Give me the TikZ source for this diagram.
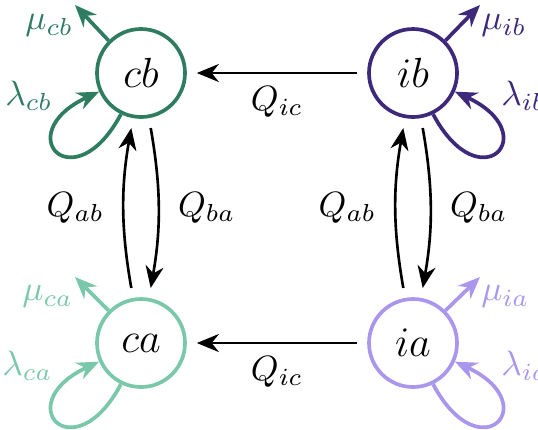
\documentclass[tikz,border=0pt]{standalone}
\usepackage{amsmath,amssymb}
\usepackage{tikz}
\usetikzlibrary{positioning,arrows.meta}
\usepackage{xcolor}
\definecolor{cbcol}{RGB}{46,125,96}
\definecolor{cacol}{RGB}{122,200,170}
\definecolor{ibcol}{RGB}{62,40,124}
\definecolor{iacol}{RGB}{170,150,236}

\begin{document}
\begin{tikzpicture}[>={Stealth[length=2.2mm,width=1.8mm]},
  state/.style={draw,circle,line width=1.05pt,minimum size=0.88cm,inner sep=0pt,font=\large},
  trans/.style={->,line width=0.75pt,shorten >=1mm,shorten <=1mm},
  rate/.style={->,line width=1.05pt}]
\useasboundingbox (0,0) rectangle (5.38,4.29);
\node[state,draw=cbcol] (cb) at (1.41,3.56) {$cb$};
\node[state,draw=ibcol] (ib) at (4.13,3.56) {$ib$};
\node[state,draw=cacol] (ca) at (1.41,0.86) {$ca$};
\node[state,draw=iacol] (ia) at (4.13,0.86) {$ia$};
% free ends of the departure arrows
\coordinate (mcb) at (0.75,4.24);
\coordinate (mib) at (4.80,4.24);
\coordinate (mca) at (0.75,1.52);
\coordinate (mia) at (4.80,1.52);
% transitions between states
\draw[trans] (ib) -- (cb) node[midway,below=0pt]{$Q_{ic}$};
\draw[trans] (ia) -- (ca) node[midway,below=0pt]{$Q_{ic}$};
\draw[trans] (ca) to[bend left=10] node[midway,left=0.07cm]{$Q_{ab}$} (cb);
\draw[trans] (cb) to[bend left=10] node[midway,right=0.07cm]{$Q_{ba}$} (ca);
\draw[trans] (ia) to[bend left=10] node[midway,left=0.07cm]{$Q_{ab}$} (ib);
\draw[trans] (ib) to[bend left=10] node[midway,right=0.07cm]{$Q_{ba}$} (ia);
% departures and arrivals
\draw[rate,cbcol] (cb.135) -- (mcb) node[midway,left=0.05cm,yshift=-0.03cm]{$\mu_{cb}$};
\draw[rate,ibcol] (ib.45) -- (mib) node[midway,right=0.05cm,yshift=-0.03cm]{$\mu_{ib}$};
\draw[rate,cacol] (ca.135) -- (mca) node[midway,left=0.05cm,yshift=-0.03cm]{$\mu_{ca}$};
\draw[rate,iacol] (ia.45) -- (mia) node[midway,right=0.05cm,yshift=-0.03cm]{$\mu_{ia}$};
\draw[rate,cbcol] (cb.244) to[out=-118,in=205,distance=1cm] node[pos=1,left=0.33cm,yshift=-0.04cm]{$\lambda_{cb}$} (cb.204);
\draw[rate,ibcol] (ib.296) to[out=-62,in=-25,distance=1cm] node[pos=1,right=0.33cm,yshift=-0.04cm]{$\lambda_{ib}$} (ib.336);
\draw[rate,cacol] (ca.244) to[out=-118,in=205,distance=1cm] node[pos=1,left=0.33cm,yshift=-0.04cm]{$\lambda_{ca}$} (ca.204);
\draw[rate,iacol] (ia.296) to[out=-62,in=-25,distance=1cm] node[pos=1,right=0.33cm,yshift=-0.04cm]{$\lambda_{ia}$} (ia.336);
\end{tikzpicture}
\end{document}
